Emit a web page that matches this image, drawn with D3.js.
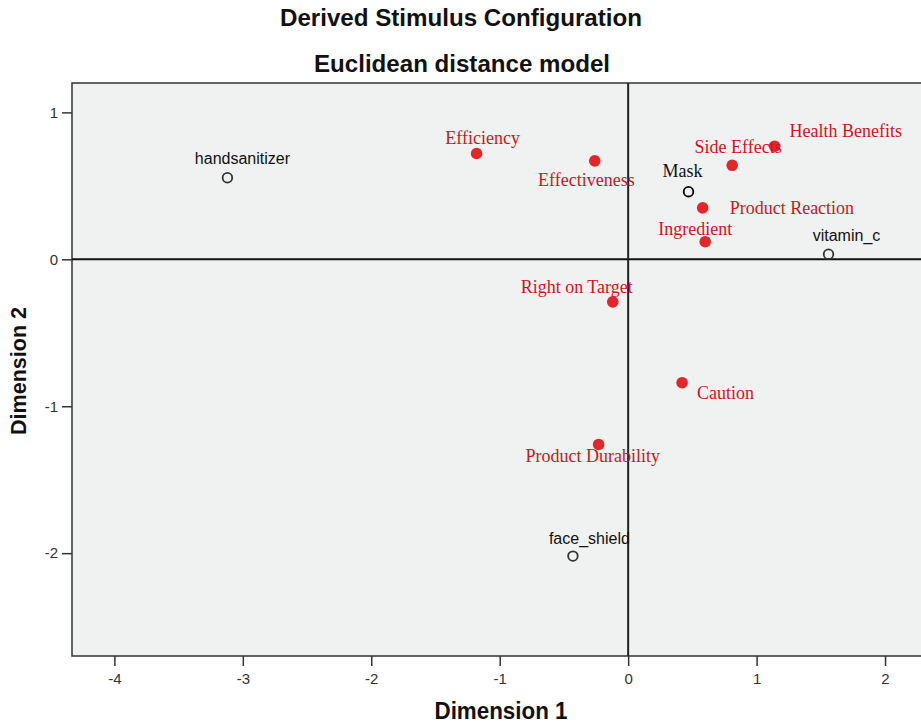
<!DOCTYPE html>
<html><head><meta charset="utf-8">
<script src="https://cdn.jsdelivr.net/npm/d3@7"></script>
<style>body{margin:0;background:#fff;}svg{display:block;}</style>
</head><body>
<svg id="chart" width="921" height="725"></svg>
<script>
// ---- data ----
const stimuli = ["handsanitizer", "Mask", "vitamin_c", "face_shield"];
const stimX = [-3.12, 0.47, 1.56, -0.43];
const stimY = [0.555, 0.46, 0.035, -2.02];

const attributes = ["Efficiency", "Effectiveness", "Side Effects", "Health Benefits", "Product Reaction", "Ingredient", "Right on Target", "Caution", "Product Durability"];
const attrX = [-1.18, -0.26, 0.81, 1.14, 0.58, 0.60, -0.12, 0.42, -0.23];
const attrY = [0.72, 0.67, 0.64, 0.77, 0.35, 0.12, -0.29, -0.84, -1.26];

const xTicks = [-4, -3, -2, -1, 0, 1, 2];
const yTicks = [1, 0, -1, -2];

// label placement (pixel offsets from the point; anchor)
const stimLabelPos = [[15, -14, "middle"], [-6, -15, "middle"], [18, -13, "middle"], [-24, -12, "start"]];
const attrLabelPos = [[6, -10, "middle"], [40, 25, "end"], [6, -12, "middle"], [15, -9, "start"], [27, 6, "start"], [27, -7, "end"], [20, -9, "end"], [15, 16, "start"], [-73, 18, "start"]];

// ---- chart ----
const svg = d3.select("#chart");
const L = 72, T = 83, R = 921, B = 656;
const x = d3.scaleLinear().domain([-4.33, 2.28]).range([L, R]);
const y = d3.scaleLinear().domain([-2.7, 1.2]).range([B, T]);
const SANS = "Liberation Sans, Arial, sans-serif";
const SERIF = "Liberation Serif, Times New Roman, serif";

const defs = svg.append("defs");
const f = defs.append("filter").attr("id", "soft").attr("x", "-50%").attr("y", "-50%").attr("width", "200%").attr("height", "200%");
f.append("feGaussianBlur").attr("stdDeviation", 0.6);

svg.append("text").attr("x", 461).attr("y", 26).attr("text-anchor", "middle")
  .attr("textLength", 362).attr("lengthAdjust", "spacingAndGlyphs")
  .style("font-family", SANS).style("font-weight", "bold").style("font-size", "23.5px").attr("fill", "#111")
  .text("Derived Stimulus Configuration");
svg.append("text").attr("x", 462).attr("y", 72).attr("text-anchor", "middle")
  .attr("textLength", 296).attr("lengthAdjust", "spacingAndGlyphs")
  .style("font-family", SANS).style("font-weight", "bold").style("font-size", "23.5px").attr("fill", "#111")
  .text("Euclidean distance model");

svg.append("rect").attr("x", L).attr("y", T).attr("width", R - L + 5).attr("height", B - T)
  .attr("fill", "#f0f1f1").attr("stroke", "#333").attr("stroke-width", 1.5);

// axes
const xAxis = svg.append("g").attr("transform", `translate(0,${B})`)
  .call(d3.axisBottom(x).tickValues(xTicks).tickSize(10).tickPadding(7).tickFormat(d => String(d)));
const yAxis = svg.append("g").attr("transform", `translate(${L},0)`)
  .call(d3.axisLeft(y).tickValues(yTicks).tickSize(10).tickPadding(4).tickFormat(d => String(d)));
[xAxis, yAxis].forEach(a => {
  a.select(".domain").remove();
  a.selectAll(".tick line").attr("stroke", "#333").attr("stroke-width", 1.5);
  a.selectAll(".tick text").style("font-family", SANS).style("font-size", "15px").attr("fill", "#333");
});

// zero lines
svg.append("line").attr("x1", L).attr("x2", R).attr("y1", y(0)).attr("y2", y(0)).attr("stroke", "#111").attr("stroke-width", 2);
svg.append("line").attr("x1", x(0)).attr("x2", x(0)).attr("y1", T).attr("y2", B).attr("stroke", "#222").attr("stroke-width", 2);

// axis titles
svg.append("text").attr("x", 501).attr("y", 719).attr("text-anchor", "middle")
  .attr("textLength", 133).attr("lengthAdjust", "spacingAndGlyphs")
  .style("font-family", SANS).style("font-weight", "bold").style("font-size", "23px").attr("fill", "#111")
  .text("Dimension 1");
svg.append("text").attr("transform", "translate(26,371) rotate(-90)").attr("text-anchor", "middle")
  .attr("textLength", 128).attr("lengthAdjust", "spacingAndGlyphs")
  .style("font-family", SANS).style("font-weight", "bold").style("font-size", "22px").attr("fill", "#111")
  .text("Dimension 2");

// attribute points (red)
const attrData = attributes.map((n, i) => ({n, x: attrX[i], y: attrY[i], p: attrLabelPos[i]}));
svg.append("g").selectAll("circle").data(attrData).join("circle")
  .attr("cx", d => x(d.x)).attr("cy", d => y(d.y)).attr("r", 5.8)
  .attr("fill", "#e3262b").attr("filter", "url(#soft)");
svg.append("g").selectAll("text").data(attrData).join("text")
  .attr("x", d => x(d.x) + d.p[0]).attr("y", d => y(d.y) + d.p[1]).attr("text-anchor", d => d.p[2])
  .style("font-family", SERIF).style("font-size", "18px").attr("fill", "#d0141c")
  .text(d => d.n);

// stimulus points (open circles)
const stimData = stimuli.map((n, i) => ({n, x: stimX[i], y: stimY[i], p: stimLabelPos[i]}));
svg.append("g").selectAll("circle").data(stimData).join("circle")
  .attr("cx", d => x(d.x)).attr("cy", d => y(d.y)).attr("r", 4.8)
  .attr("fill", "none").attr("stroke", (d, i) => i === 1 ? "#000" : "#333").attr("stroke-width", 1.8);
svg.append("g").selectAll("text").data(stimData).join("text")
  .attr("x", d => x(d.x) + d.p[0]).attr("y", d => y(d.y) + d.p[1]).attr("text-anchor", d => d.p[2])
  .style("font-family", (d, i) => i === 1 ? SERIF : SANS)
  .style("font-size", (d, i) => i === 1 ? "18px" : "16px").attr("fill", "#111")
  .text(d => d.n);
</script>
</body></html>
